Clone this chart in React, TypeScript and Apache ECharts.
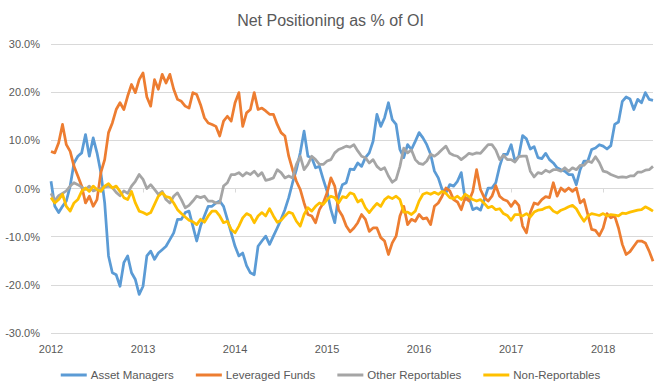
import React, { useEffect, useRef } from "react";
import * as echarts from "echarts";

// Semi-monthly observation dates, Jan 2012 .. Aug 2018 (158 points)
const POINTS = 158;
const dates: string[] = Array.from({ length: POINTS }, (_, i) => {
  const year = 2012 + Math.floor(i / 24);
  const month = Math.floor((i % 24) / 2) + 1;
  const day = i % 2 ? 15 : 1;
  return `${year}-${String(month).padStart(2, "0")}-${String(day).padStart(2, "0")}`;
});

const seriesNames = ["Asset Managers", "Leveraged Funds", "Other Reportables", "Non-Reportables"];
const seriesColors = ["#5B9BD5", "#ED7D31", "#A5A5A5", "#FFC000"];

const assetManagers = [
  1.5, -3.7, -5, -3.7, -2.6, 0.5, 5.3, 6.7, 7.4, 11.2, 6.7, 10.5, 7.4, 3.3, -3, -14, -17.5, -17.9, -20.3, -15.4, -14, -17.5, -18.9, -22, -20.3, -14,
  -13, -14.7, -13.4, -12.7, -12, -10.6, -9.2, -6.4, -6.4, -5, -4.7, -7.8, -10.9, -7.8, -5.7, -3.7, -3.7, -3, -2.6, -3.7, -6.4, -9.2, -12, -14, -13.4, -16,
  -17.5, -17.9, -12, -10.9, -9.9, -11.6, -9.9, -8.2, -6.4, -4.4, -1.9, 1.2, 3.9, 7.4, 11.9, 6.7, 6.4, 4.3, 4.6, 1.9, -0.6, -4.4, -7.1, -1.6, 0.8, 1.2, 4,
  3.9, 5.3, 4.6, 6.4, 7.4, 9.8, 15.4, 12.9, 14.7, 17.8, 14.3, 13.3, 8.1, 6.4, 9.1, 8.1, 9.8, 11.6, 10.5, 9.1, 7.1, 3.6, 2.2, -0.2, -0.9, 0.8,
  0.5, 1.5, 3.3, -2.3, -1.9, -4.4, -4, -4.5, -2.3, 0.1, 0.1, 1.2, 4.6, 7.1, 7.1, 9.1, 5.7, 6.7, 11, 10.3, 8.2, 8.7, 6.4, 6.2, 7.3, 6, 5.3,
  4.3, 3.9, 3.6, 2.9, 2.9, 0.8, 3.9, 5.7, 5.7, 8.1, 8.4, 9.1, 8.8, 8.2, 8.9, 13.3, 13.8, 18.1, 19, 18.6, 16.4, 18.5, 17.8, 19.9, 18.5, 18.3,
];

const leveragedFunds = [
  7.7, 7.4, 9.5, 13.3, 9.1, 7.7, 4.6, 2.6, 0.5, -3, -1.6, -3.7, -2.3, 3.3, 6, 11.6, 13.6, 16.4, 17.8, 16.4, 19.2, 21.6, 19.9, 22.6, 24, 19,
  17.1, 22.6, 20.6, 23.7, 21.9, 23.7, 20.6, 18.5, 18.1, 17.1, 16.7, 19.9, 19.5, 17.4, 14.7, 13.6, 13.3, 12.9, 10.9, 14, 15, 14, 17.8, 19.9, 12.9, 15.7,
  16.4, 19.9, 16.4, 16.7, 16.1, 15.4, 15.4, 13.3, 11.6, 10.9, 6.7, 3.9, 1.5, -0.2, -3, -5.4, -5.7, -7.1, -4.4, -3, -0.9, 2.2, 0.5, -4.4, -5.7, -7.8, -9,
  -8.2, -7.1, -5.4, -6.4, -8.9, -8.2, -8.2, -10.2, -10.9, -13.7, -11.3, -9.9, -5.7, -3.7, -7.5, -6.4, -6.8, -5.4, -6.3, -6.1, -7.5, -3.7, -3, -1.6, 0.1, -0.5,
  -2.3, -2.8, -4.4, -1.9, -2.6, -0.6, 3.9, -0.2, -1.9, -2.6, -1.6, 0.6, -1.6, -2.3, -2.6, -3.7, -2.6, -3.5, -7.8, -9.2, -5, -3, -3.3, -2.3, -1.7, -1.9, 1.2,
  -1.6, 0.1, -0.6, 0.1, -0.6, 0.1, -3, -2.3, -5.4, -8.5, -8.7, -9.8, -8.2, -5.2, -6.1, -5.7, -8.2, -11.6, -13.7, -13.1, -12, -10.9, -10.9, -11.3, -13, -15.1,
];

const otherReportables = [
  -1, -2.5, -1.5, -1, -0.5, 0.5, 1.2, 0.8, 0.3, -0.2, 0.5, -0.5, -0.2, 0, 0.3, 0.5, 0.2, -0.8, -1.5, -0.5, -1, 0.5, 1.5, 2.9, 1.9, 0,
  0.8, -0.2, -1.2, -0.6, -2.3, -3, -1.6, -0.9, -2.3, -4, -3.5, -2.6, -1.6, -1.9, -1.6, -2.6, -2.6, -3, -3, 0.5, 1.2, 2.9, 2.9, 3.3, 2.6, 3.3,
  2.9, 3.6, 2.6, 3.3, 1.7, 1.9, 2.2, 3.9, 3.3, 2.2, 2.6, 2.2, 5, 6.7, 3.9, 5, 6.7, 6, 5, 5, 5.7, 6, 7.4, 8.1, 8.4, 8.8, 8.6,
  9.1, 7.8, 6.7, 6.4, 5.3, 6, 4.6, 3.9, 4.3, 2.6, 1.3, 1.9, 4.6, 8.4, 7.4, 8, 6, 5.2, 5, 5.7, 7.1, 6.7, 7.3, 8.1, 8.8, 7.3,
  6.9, 6.7, 6, 6.6, 7.3, 7.1, 7.4, 7.3, 8.2, 9.1, 9.1, 8, 6, 6.9, 6, 6, 5.5, 6.6, 6.7, 6.7, 3.6, 2.4, 3.3, 3.1, 3.8, 3.4, 3.9,
  3.9, 3.6, 4.3, 3.6, 4.3, 3.9, 4.8, 4.8, 5.7, 5.4, 6.6, 5.4, 3.6, 3.4, 2.9, 2.6, 2.3, 2.4, 2.3, 2.6, 2.6, 3.4, 3.4, 3.8, 3.9, 4.6,
];

const nonReportables = [
  -1.9, -3, -2.3, -1.2, -3.7, -4.7, -3, -2.3, -0.6, 0.1, -0.6, 0.5, -0.2, -0.6, 0.5, 1, 0.1, 0.5, -0.6, -1.9, -2.3, -0.6, -3, -4.7, -5, -5.4,
  -5, -3.3, -1.6, -0.9, -1.7, -1.9, -3, -4.4, -5.2, -5.9, -6.6, -6.9, -7.5, -6.4, -7, -5.7, -4.7, -4.7, -5.7, -7.1, -6.8, -8.5, -9.2, -7.8, -6.1, -5.2,
  -5.6, -7.1, -5.7, -5, -5.7, -4.2, -5.7, -7, -6.6, -5.7, -4.9, -5.2, -6.8, -7.8, -5.4, -4, -4.7, -3.7, -3, -3.3, -2.3, -1.6, -1.9, -3, -1.7, -1.9, -0.9,
  -1.2, -2.8, -2.3, -4, -5, -4, -3.1, -3.7, -2.3, -1.7, -2.1, -1.6, -2.3, -4.9, -4.9, -5.4, -4.7, -2.6, -1.2, -0.9, -1.2, -0.8, -1.2, -0.6, -1, -1.9,
  -2.1, -1.6, -2.3, -1.2, -1.7, -2.3, -2.6, -2.3, -3.1, -4, -3.7, -4.4, -4.2, -5.2, -5.6, -6.6, -5.4, -5.4, -5.7, -5.2, -5.9, -4.9, -4.5, -4.4, -4, -3.8, -4.7,
  -5.1, -4.5, -4.2, -3.8, -3.5, -4.2, -5.6, -6.8, -5.7, -5.2, -5.4, -5.6, -5.2, -5.7, -5.4, -5.5, -5.7, -5.1, -5.2, -4.9, -4.7, -4.5, -4.4, -3.8, -4.2, -4.7,
];

const seriesValues = [assetManagers, leveragedFunds, otherReportables, nonReportables];

const FONT = "'Liberation Sans', Arial, sans-serif";
const TEXT = "#595959";
const GRID_LINE = "#D9D9D9";
const isYearStart = (index: number) => index % 24 === 0;

export default function App() {
  const ref = useRef<HTMLDivElement>(null);

  useEffect(() => {
    if (!ref.current) return;
    const chart = echarts.init(ref.current, undefined, { renderer: "svg" });
    chart.setOption({
      animation: false,
      backgroundColor: "#FFFFFF",
      textStyle: { fontFamily: FONT },
      title: {
        text: "Net Positioning as % of OI",
        left: "center",
        top: 7,
        textStyle: { fontFamily: FONT, fontSize: 16, fontWeight: "normal", color: TEXT },
      },
      legend: {
        bottom: 5,
        left: "center",
        itemWidth: 26,
        itemHeight: 3,
        itemGap: 22,
        icon: "rect",
        textStyle: { fontFamily: FONT, fontSize: 11.5, color: TEXT, padding: [0, 0, 0, -1] },
        data: seriesNames,
      },
      grid: { left: 51, right: 8, top: 44, bottom: 58, containLabel: false },
      xAxis: [
        {
          type: "category",
          data: dates,
          boundaryGap: false,
          position: "bottom",
          axisLine: { show: false, onZero: false },
          axisTick: { show: false },
          splitLine: { show: false },
          axisLabel: {
            interval: (index: number) => isYearStart(index),
            formatter: (v: string) => v.slice(0, 4),
            color: TEXT,
            fontFamily: FONT,
            fontSize: 11,
            margin: 10,
            hideOverlap: false,
          },
        },
        {
          type: "category",
          data: dates,
          boundaryGap: false,
          position: "bottom",
          axisLine: { show: true, onZero: true, lineStyle: { color: GRID_LINE, width: 1 } },
          axisTick: {
            show: true,
            interval: (index: number) => isYearStart(index),
            length: 4,
            lineStyle: { color: GRID_LINE },
          },
          axisLabel: { show: false },
          splitLine: { show: false },
        },
      ],
      yAxis: {
        type: "value",
        min: -30,
        max: 30,
        interval: 10,
        axisLine: { show: false },
        axisTick: { show: false },
        splitLine: { lineStyle: { color: GRID_LINE, width: 1 } },
        axisLabel: {
          formatter: (v: number) => `${v.toFixed(1)}%`,
          color: TEXT,
          fontFamily: FONT,
          fontSize: 11,
          margin: 11,
        },
      },
      series: seriesNames.map((name, k) => ({
        name,
        type: "line",
        xAxisIndex: 0,
        data: seriesValues[k],
        showSymbol: false,
        symbol: "none",
        color: seriesColors[k],
        lineStyle: { width: 2.75, color: seriesColors[k], join: "round" },
      })),
    });
    return () => chart.dispose();
  }, []);

  return (
    <div
      ref={ref}
      style={{ position: "fixed", left: 0, top: 0, width: 661, height: 391, background: "#fff" }}
    />
  );
}
